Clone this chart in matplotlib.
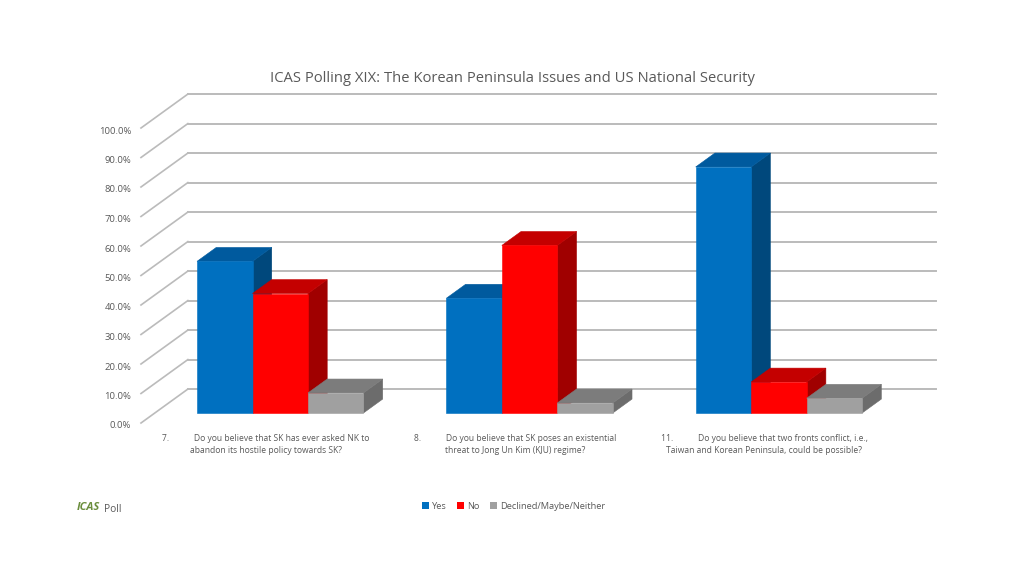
#!/usr/bin/env python3
"""ICAS poll chart, drawn as a fake 3D clustered column chart"""

import matplotlib
matplotlib.use("Agg")
import matplotlib.pyplot as plt
from matplotlib.patches import Polygon, Patch
from matplotlib.transforms import ScaledTranslation

plt.rcParams['font.family'] = ['Open Sans', 'DejaVu Sans']

# data
questions = [
    "7.           Do you believe that SK has ever asked NK to\nabandon its hostile policy towards SK?",
    "8.           Do you believe that SK poses an existential\nthreat to Jong Un Kim (KJU) regime?",
    "11.           Do you believe that two fronts conflict, i.e.,\nTaiwan and Korean Peninsula, could be possible?",
]
series_names = ["Yes", "No", "Declined/Maybe/Neither"]
yes_values = [51.4, 38.9, 83.4]
no_values = [40.5, 56.8, 10.5]
other_values = [6.8, 3.4, 5.0]
pct_ticks = [0, 10, 20, 30, 40, 50, 60, 70, 80, 90, 100]

# front, top, side colours
front_colors = ["#0070C0", "#FF0000", "#A0A0A0"]
top_colors = ["#005A9E", "#C40000", "#7C7C7C"]
side_colors = ["#00487C", "#A00000", "#6C6C6C"]

# depth of the floor in axis units
DEPTH_X = 0.188
DEPTH_Y = 11.5
BAR_W = 0.2225
BAR_SHIFT = 0.003
D0, D1 = 0.295, 0.705


def proj(x, y, d):
    return (x + d * DEPTH_X, y + d * DEPTH_Y)


def draw_bar(ax, x, val, k):
    x0, x1 = x, x + BAR_W
    front = [proj(x0, 0, D0), proj(x1, 0, D0), proj(x1, val, D0), proj(x0, val, D0)]
    top = [proj(x0, val, D0), proj(x1, val, D0), proj(x1, val, D1), proj(x0, val, D1)]
    side = [proj(x1, 0, D0), proj(x1, 0, D1), proj(x1, val, D1), proj(x1, val, D0)]
    z = 3 + k
    # thin edges in the fill colour close the seams between the faces
    ax.add_patch(Polygon(side, fc=side_colors[k], ec=side_colors[k], lw=0.4, zorder=z, clip_on=False))
    ax.add_patch(Polygon(top, fc=top_colors[k], ec=top_colors[k], lw=0.4, zorder=z, clip_on=False))
    ax.add_patch(Polygon(front, fc=front_colors[k], ec=front_colors[k], lw=0.4, zorder=z + 0.1, clip_on=False))


fig = plt.figure(figsize=(10.24, 5.76), dpi=100)
W, H = 1024.0, 576.0
ax = fig.add_axes([141 / W, 1 - 423 / H, 748 / W, 295 / H])
ax.set_xlim(-0.5, 2.5)
ax.set_ylim(0, 100)
for s in ax.spines.values():
    s.set_visible(False)

# grid on the wall and the slanted floor/side lines
grid_col = "#BBBBBB"
for t in pct_ticks:
    px, py = proj(-0.5, t, 1)
    ax.plot([-0.5, px], [t, py], color=grid_col, lw=1.2, clip_on=False, zorder=1)
    ax.plot([px, proj(2.5, t, 1)[0]], [py, py], color=grid_col, lw=1.4, clip_on=False, zorder=1)

# bars
for i in range(len(questions)):
    vals = [yes_values[i], no_values[i], other_values[i]]
    for k, v in enumerate(vals):
        draw_bar(ax, i - 1.5 * BAR_W + k * BAR_W + BAR_SHIFT, v, k)

ax.set_yticks(pct_ticks)
ax.set_yticklabels([f"{t:.1f}%" for t in pct_ticks], fontsize=6.8, color="#595959")
ax.set_xticks(range(len(questions)))
ax.set_xticklabels(questions, fontsize=6.15, color="#595959", linespacing=1.36)
ax.tick_params(axis="both", length=0)
ax.tick_params(axis="y", pad=7)
ax.tick_params(axis="x", pad=8)

# tick labels sit a little below the front end of the slanted lines
nudge = ScaledTranslation(0, -2 / 100, fig.dpi_scale_trans)
for lab in ax.get_yticklabels():
    lab.set_transform(lab.get_transform() + nudge)

fig.text(512 / W, 1 - 78 / H, "ICAS Polling XIX: The Korean Peninsula Issues and US National Security",
         ha="center", va="center", fontsize=10.65, color="#595959")

handles = [Patch(fc=c, ec="none") for c in front_colors]
fig.legend(handles, series_names, loc="center", bbox_to_anchor=(513.5 / W, 1 - 506.5 / H), ncol=3,
           frameon=False, fontsize=6.7, labelcolor="#595959", handlelength=0.75, handleheight=0.75,
           handletextpad=0.4, columnspacing=1.05)

fig.text(77 / W, 1 - 507 / H, "ICAS", ha="left", va="center", fontsize=8, color="#6B8E3D",
         style="italic", fontweight="bold")
fig.text(104 / W, 1 - 510 / H, "Poll", ha="left", va="center", fontsize=7.3, color="#595959")

fig.savefig("out.png", dpi=100)
